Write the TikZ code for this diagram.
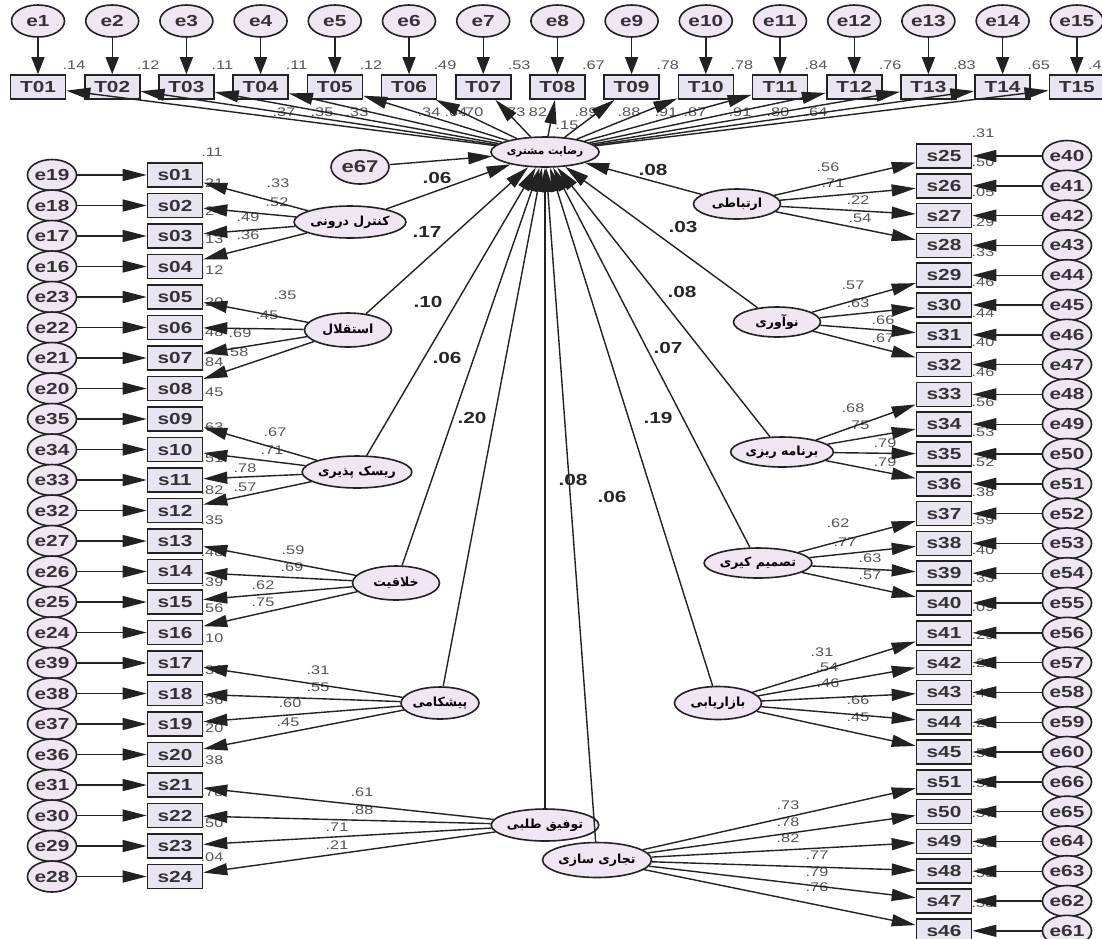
\documentclass[tikz,border=0pt]{standalone}
\usepackage{fontspec}
\setmainfont{Liberation Sans}
\newfontfamily\nodefont[FakeStretch=1.3]{Liberation Sans}
\newfontfamily\fa[Script=Arabic]{DejaVu Sans}
\TeXXeTstate=1
\usetikzlibrary{shapes.geometric,arrows.meta}
\definecolor{lav}{HTML}{EFE5F3}
\definecolor{boxf}{HTML}{E9E4F1}
\definecolor{edgec}{HTML}{222222}
\definecolor{lblc}{HTML}{555555}
\newcommand\mylbl[3]{\node[ld] at (#1,#2) {#3};}
\begin{document}
\begin{tikzpicture}[x=1pt,y=-1pt,
  err/.style={ellipse,draw=edgec,line width=1.6pt,fill=lav,inner sep=0pt,font=\nodefont\bfseries\fontsize{16}{16}\selectfont,text=black!80},
  errT/.style={err,minimum width=53pt,minimum height=32pt},
  errS/.style={err,minimum width=47pt,minimum height=31pt},
  obs/.style={rectangle,draw=edgec,line width=1.6pt,fill=boxf,minimum width=55pt,minimum height=24pt,inner sep=0pt,font=\nodefont\bfseries\fontsize{16}{16}\selectfont,text=black!80},
  lat/.style={ellipse,draw=edgec,line width=1.6pt,fill=lav,minimum width=87pt,minimum height=32pt,inner sep=0pt,font=\fa\bfseries\fontsize{12.5}{12.5}\selectfont},
  ld/.style={font=\nodefont\fontsize{12.5}{12.5}\selectfont,text=lblc,inner sep=0pt},
  pc/.style={font=\nodefont\bfseries\fontsize{16}{16}\selectfont,text=black!85,inner sep=0pt},
  arr/.style={draw=edgec,line width=1.4pt,-{Triangle[length=24pt,width=12pt]}},
  arrT/.style={draw=edgec,line width=1.4pt,-{Triangle[length=17pt,width=13pt]}}]
\useasboundingbox (0,0) rectangle (1102,938);
\fill[white] (0,0) rectangle (1102,938);

% top row
\foreach \i/\t in {1/01,2/02,3/03,4/04,5/05,6/06,7/07,8/08,9/09,10/10,11/11,12/12,13/13,14/14,15/15}{
  \pgfmathsetmacro\xx{38+(\i-1)*74.2}
  \node[errT] (e\i) at (\xx,21) {e\i};
  \node[obs] (T\t) at (\xx,87) {T\t};
}
% left column
\foreach \k/\s/\e in {0/01/19,1/02/18,2/03/17,3/04/16,4/05/23,5/06/22,6/07/21,7/08/20,8/09/35,9/10/34,10/11/33,11/12/32,12/13/27,13/14/26,14/15/25,15/16/24,16/17/39,17/18/38,18/19/37,19/20/36,20/21/31,21/22/30,22/23/29,23/24/28}{
  \pgfmathsetmacro\yy{175+\k*30.5}
  \node[obs] (s\s) at (175,\yy) {s\s};
  \node[errS] (e\e) at (52,\yy) {e\e};
}
% right column
\foreach \k/\s/\e in {0/25/40,1/26/41,2/27/42,3/28/43,4/29/44,5/30/45,6/31/46,7/32/47,8/33/48,9/34/49,10/35/50,11/36/51,12/37/52,13/38/53,14/39/54,15/40/55,16/41/56,17/42/57,18/43/58,19/44/59,20/45/60,21/51/66,22/50/65,23/49/64,24/48/63,25/47/62,26/46/61}{
  \pgfmathsetmacro\yy{156+\k*29.8}
  \node[obs] (s\s) at (944,\yy) {s\s};
  \node[errS] (e\e) at (1067,\yy) {e\e};
}

% latent variables
\node[lat,minimum width=90pt,minimum height=30pt,font=\fa\bfseries\fontsize{10.5}{10.5}\selectfont] (C) at (545,152) {\beginR رضایت مشتری\endR};
\node[err,minimum width=58pt,minimum height=34pt,font=\nodefont\bfseries\fontsize{17}{17}\selectfont] (e67) at (360,167) {e67};
\node[lat,minimum width=76pt] (L1) at (350,222) {\beginR کنترل درونی\endR};
\node[lat,minimum height=34pt] (L2) at (348,330) {\beginR استقلال\endR};
\node[lat] (L3) at (357,472) {\beginR ریسک پذیری\endR};
\node[lat,minimum height=34pt] (L4) at (396,583) {\beginR خلاقیت\endR};
\node[lat,minimum width=78pt] (L5) at (440,703) {\beginR پیشکامی\endR};
\node[lat] (L6) at (545,825) {\beginR توفیق طلبی\endR};
\node[lat,minimum width=90pt,minimum height=35pt] (L7) at (597,860) {\beginR تجاری سازی\endR};
\node[lat,minimum height=30pt] (R1) at (737,204) {\beginR ارتباطی\endR};
\node[lat,minimum height=30pt] (R2) at (777,322) {\beginR نوآوری\endR};
\node[lat,minimum width=89pt,minimum height=30pt] (R3) at (782,452) {\beginR برنامه ریزی\endR};
\node[lat,minimum width=89pt,minimum height=30pt] (R4) at (758,563) {\beginR تصمیم کیری\endR};
\node[lat,minimum height=33pt] (R5) at (718,703) {\beginR بازاریابی\endR};

% top labels
\foreach \i/\v in {1/.14,2/.12,3/.11,4/.11,5/.12,6/.49,7/.53,8/.67,9/.78,10/.78,11/.84,12/.76,13/.83,14/.65}{
  \pgfmathsetmacro\xx{38+(\i-1)*74.2+36}
  \node[ld] at (\xx,65) {\v};
}
\node[ld,anchor=west] at (1088,65) {.4};
\foreach \x/\v in {284/.37,322/.35,357/.33,429/.34,456/.64,472/.70,514/.73,538/82,586/.89,629/.88,666/.91,695/.87,740/.91,778/.80,816/.64}{
  \node[ld] at (\x,112) {\v};
}
\mylbl{567}{125}{.15}

% left R2 labels
\foreach \y/\v in {152/.11,183/.21,211/.24,239/.13,270/.12,302/.20,332/.48,362/.84,392/.45,427/.63,458/.51,490/.82,520/.35,552/.48,582/.39,608/.56,638/.10,670/.36,700/.36,728/.20,760/.38,792/.78,823/.50,857/.04}{
  \node[ld] at (212,\y) {\v};
}
% left loadings
\foreach \x/\y/\v in {278/183/.33,277/202/.52,248/217/.49,248/235/.36,
  285/295/.35,267/315/.45,240/333/.69,237/352/.58,
  275/432/.67,272/450/.71,245/468/.78,245/487/.57,
  293/550/.59,292/567/.69,263/585/.62,263/602/.75,
  318/670/.31,318/687/.55,290/703/.60,288/722/.45,
  362/792/.61,362/810/.88,337/827/.71,337/845/.21}{
  \node[ld] at (\x,\y) {\v};
}
% right R2 labels
\foreach \y/\v in {133/.31,162/.50,192/.05,222/.29,252/.33,282/.46,313/.44,342/.40,372/.46,402/.56,432/.53,462/.52,492/.38,520/.59,550/.40,578/.33,607/.09,635/.29,663/.21,693/.43,723/.21,753/.53,783/.51,813/.57,843/.59,873/.53,903/.58}{
  \node[ld] at (983,\y) {\v};
}
% right loadings
\foreach \x/\y/\v in {828/167/.56,833/183/.71,858/200/.22,860/218/.54,
  853/285/.57,858/303/.63,883/320/.66,883/338/.67,
  853/408/.68,858/425/.75,885/443/.79,885/462/.79,
  838/523/.62,845/542/.77,870/558/.63,870/575/.57,
  822/652/.31,827/667/.54,828/683/.46,858/700/.66,858/717/.45,
  788/805/.73,788/822/.78,788/838/.82,817/855/.77,817/872/.79,817/887/.76}{
  \node[ld] at (\x,\y) {\v};
}
% path coefficients
\foreach \x/\y/\v in {437/178/.06,427/232/.17,428/302/.10,447/358/.06,472/418/.20,573/480/.08,612/497/.06,658/418/.19,668/348/.07,682/292/.08,683/227/.03,653/170/.08}{
  \node[pc] at (\x,\y) {\v};
}

% arrows top
\foreach \i/\t in {1/01,2/02,3/03,4/04,5/05,6/06,7/07,8/08,9/09,10/10,11/11,12/12,13/13,14/14,15/15}{
  \draw[arrT] (e\i) -- (T\t);
  \draw[arr] (C) -- (T\t);
}
% error arrows left and right
\foreach \s/\e in {01/19,02/18,03/17,04/16,05/23,06/22,07/21,08/20,09/35,10/34,11/33,12/32,13/27,14/26,15/25,16/24,17/39,18/38,19/37,20/36,21/31,22/30,23/29,24/28,25/40,26/41,27/42,28/43,29/44,30/45,31/46,32/47,33/48,34/49,35/50,36/51,37/52,38/53,39/54,40/55,41/56,42/57,43/58,44/59,45/60,51/66,50/65,49/64,48/63,47/62,46/61}{
  \draw[arr] (e\e) -- (s\s);
}
% loadings
\foreach \l/\s in {L1/01,L1/02,L1/03,L1/04,L2/05,L2/06,L2/07,L2/08,L3/09,L3/10,L3/11,L3/12,L4/13,L4/14,L4/15,L4/16,L5/17,L5/18,L5/19,L5/20,L6/21,L6/22,L6/23,L6/24,R1/25,R1/26,R1/27,R1/28,R2/29,R2/30,R2/31,R2/32,R3/33,R3/34,R3/35,R3/36,R4/37,R4/38,R4/39,R4/40,R5/41,R5/42,R5/43,R5/44,R5/45,L7/51,L7/50,L7/49,L7/48,L7/47,L7/46}{
  \draw[arr] (\l) -- (s\s);
}
% structural paths
\foreach \l in {e67,L1,L2,L3,L4,L5,L6,L7,R1,R2,R3,R4,R5}{
  \draw[arr] (\l) -- (C);
}
\end{tikzpicture}
\end{document}
